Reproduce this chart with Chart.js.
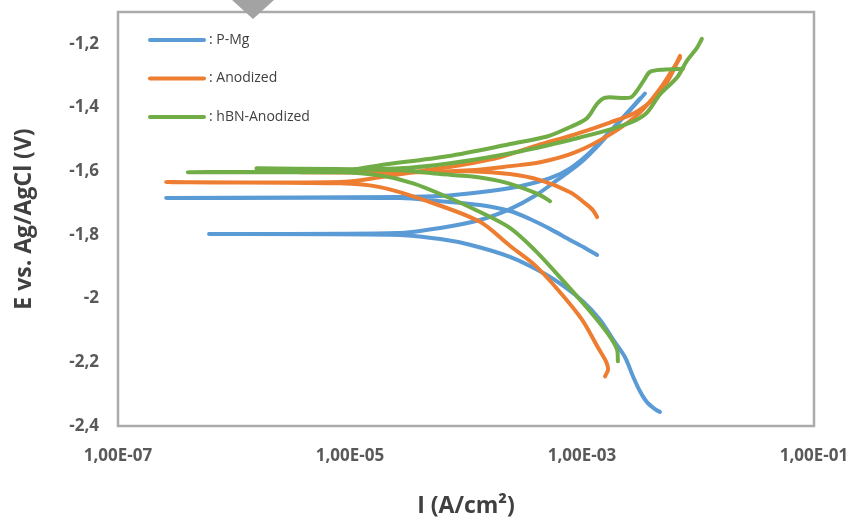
<!DOCTYPE html>
<html>
<head>
<meta charset="utf-8">
<script src="https://cdn.jsdelivr.net/npm/chart.js@4.4.0/dist/chart.umd.min.js"></script>
<style>
  html, body { margin: 0; padding: 0; background: #ffffff; }
  #wrap { width: 855px; height: 520px; position: relative; }
</style>
</head>
<body>
<div id="wrap"><canvas id="tafel" width="855" height="520"></canvas></div>
<script>
// Axis ticks and their printed labels (decimal comma notation)
const xTickValues = [1e-7, 1e-5, 1e-3, 1e-1];
const xTickLabels = ['1,00E-07', '1,00E-05', '1,00E-03', '1,00E-01'];
const yTickValues = [-2.4, -2.2, -2.0, -1.8, -1.6, -1.4, -1.2];
const yTickLabels = ['-2,4', '-2,2', '-2', '-1,8', '-1,6', '-1,4', '-1,2'];

// Samples
const seriesNames = ['P-Mg', 'Anodized', 'hBN-Anodized'];
const seriesColors = ['#5B9BD5', '#ED7D31', '#70AD47'];

// Polarization sweeps: current density (A/cm²) and potential (V vs Ag/AgCl)
// P-Mg, run 1
const pmg1Current = [1.35e-3, 1.06e-3, 7.9e-4, 5.3e-4, 3.56e-4, 2.39e-4, 1.32e-4, 6.0e-5, 2.7e-5, 2.6e-7,
  2.7e-5, 6.0e-5, 1.32e-4, 2.92e-4, 5.3e-4, 7.9e-4, 1.17e-3, 1.74e-3, 2.49e-3, 3.49e-3];
const pmg1Potential = [-1.863, -1.841, -1.816, -1.781, -1.750, -1.725, -1.706, -1.694, -1.684, -1.684,
  -1.681, -1.678, -1.666, -1.647, -1.622, -1.591, -1.541, -1.475, -1.416, -1.356];

// P-Mg, run 2
const pmg2Current = [4.7e-3, 4.26e-3, 3.63e-3, 3.16e-3, 2.75e-3, 2.35e-3, 1.85e-3, 1.43e-3, 1.02e-3, 7.1e-4,
  4.6e-4, 2.39e-4, 1.08e-4, 6.0e-5, 2.7e-5, 6.1e-7, 2.54e-5, 6.0e-5, 1.32e-4, 2.39e-4,
  3.9e-4, 6.1e-4, 9.6e-4, 1.43e-3, 2.13e-3, 3.16e-3];
const pmg2Potential = [-2.356, -2.347, -2.325, -2.291, -2.244, -2.184, -2.128, -2.066, -2.009, -1.963,
  -1.919, -1.869, -1.831, -1.813, -1.800, -1.797, -1.794, -1.778, -1.753, -1.719,
  -1.678, -1.628, -1.575, -1.513, -1.441, -1.372];

// Anodized, run 1
const anod1Current = [1.58e-3, 1.68e-3, 1.61e-3, 1.37e-3, 1.0e-3, 6.2e-4, 3.9e-4, 2.39e-4, 1.32e-4, 4.9e-5,
  1.81e-5, 8.2e-6, 2.6e-7, 8.2e-6, 1.81e-5, 4.0e-5, 8.9e-5, 1.96e-4, 4.1e-4, 8.7e-4,
  1.74e-3, 2.86e-3, 4.26e-3, 5.5e-3, 7.0e-3];
const anod1Potential = [-2.244, -2.222, -2.197, -2.153, -2.066, -1.972, -1.894, -1.834, -1.759, -1.697,
  -1.650, -1.638, -1.634, -1.634, -1.619, -1.600, -1.581, -1.556, -1.519, -1.484,
  -1.447, -1.416, -1.369, -1.316, -1.238];

// Anodized, run 2
const anod2Current = [1.35e-3, 1.24e-3, 1.06e-3, 7.9e-4, 4.35e-4, 2.39e-4, 1.08e-4, 4.0e-5, 3.7e-6, 4.0e-5,
  1.08e-4, 2.39e-4, 4.35e-4, 8.7e-4, 1.81e-3, 3.16e-3, 4.7e-3, 5.97e-3, 7.0e-3];
const anod2Potential = [-1.744, -1.722, -1.700, -1.666, -1.628, -1.609, -1.600, -1.603, -1.603, -1.603,
  -1.597, -1.584, -1.572, -1.541, -1.481, -1.416, -1.341, -1.284, -1.244];

// hBN-Anodized, run 1
const hbn1Current = [2.04e-3, 2.0e-3, 1.64e-3, 1.1e-3, 6.5e-4, 3.9e-4, 2.39e-4, 1.32e-4, 6.9e-5, 3.5e-5,
  1.81e-5, 8.2e-6, 4.0e-7, 8.2e-6, 1.81e-5, 6.9e-5, 2.54e-4, 5.0e-4, 7.4e-4, 1.1e-3,
  1.35e-3, 1.58e-3, 2.59e-3, 2.98e-3, 3.49e-3, 3.85e-3, 4.99e-3, 7.43e-3];
const hbn1Potential = [-2.197, -2.159, -2.106, -2.028, -1.934, -1.847, -1.778, -1.728, -1.681, -1.638,
  -1.613, -1.603, -1.603, -1.600, -1.581, -1.553, -1.513, -1.491, -1.466, -1.434,
  -1.388, -1.369, -1.369, -1.347, -1.309, -1.288, -1.281, -1.278];

// hBN-Anodized, run 2
const hbn2Current = [5.3e-4, 4.35e-4, 2.92e-4, 1.96e-4, 1.08e-4, 6.0e-5, 2.7e-5, 1.58e-6, 6.7e-6, 2.7e-5,
  7.3e-5, 1.96e-4, 5.0e-4, 9.6e-4, 1.85e-3, 2.86e-3, 3.63e-3, 4.7e-3, 6.59e-3, 8.04e-3,
  9.8e-3, 1.08e-2];
const hbn2Potential = [-1.694, -1.675, -1.650, -1.631, -1.616, -1.609, -1.597, -1.591, -1.594, -1.591,
  -1.575, -1.550, -1.519, -1.494, -1.466, -1.441, -1.416, -1.359, -1.306, -1.253,
  -1.213, -1.184];

const runs = [
  { sample: 0, current: pmg1Current, potential: pmg1Potential },
  { sample: 0, current: pmg2Current, potential: pmg2Potential },
  { sample: 1, current: anod1Current, potential: anod1Potential },
  { sample: 1, current: anod2Current, potential: anod2Potential },
  { sample: 2, current: hbn1Current, potential: hbn1Potential },
  { sample: 2, current: hbn2Current, potential: hbn2Potential }
];

const datasets = runs.map(r => ({
  label: seriesNames[r.sample],
  data: r.current.map((c, i) => ({ x: c, y: r.potential[i] })),
  borderColor: seriesColors[r.sample],
  backgroundColor: seriesColors[r.sample],
  showLine: true,
  fill: false,
  pointRadius: 0,
  pointHoverRadius: 0,
  borderWidth: 4,
  tension: 0.3,
  borderCapStyle: 'round',
  borderJoinStyle: 'round',
  order: 2 - r.sample
}));

const tickFont = { family: "'Open Sans', 'Liberation Sans', sans-serif", size: 17, weight: 'bold' };
const titleFont = { family: "'Open Sans', 'Liberation Sans', sans-serif", size: 23, weight: 'bold' };

// Keep the plot area fixed: no extra room reserved for edge tick labels
function noEdgePadding(s) {
  s.paddingTop = 0;
  s.paddingBottom = 0;
  s.paddingLeft = 0;
  s.paddingRight = 0;
}

// Grey frame around the plot area
const plotFrame = {
  id: 'plotFrame',
  beforeDatasetsDraw(chart) {
    const { ctx, chartArea: a } = chart;
    ctx.save();
    ctx.strokeStyle = '#ababab';
    ctx.lineWidth = 2.5;
    ctx.strokeRect(a.left, a.top, a.right - a.left, a.bottom - a.top);
    ctx.restore();
  }
};

// Legend: one long line sample per material, stacked in the upper-left of the plot
const insetLegend = {
  id: 'insetLegend',
  afterDatasetsDraw(chart) {
    const { ctx, chartArea: a } = chart;
    ctx.save();
    ctx.font = "14px 'Open Sans', 'Liberation Sans', sans-serif";
    ctx.textBaseline = 'middle';
    ctx.textAlign = 'left';
    seriesNames.forEach((name, i) => {
      const y = a.top + 28 + i * 38.5;
      const x0 = a.left + 32;
      ctx.strokeStyle = seriesColors[i];
      ctx.lineWidth = 4;
      ctx.lineCap = 'round';
      ctx.beginPath();
      ctx.moveTo(x0, y);
      ctx.lineTo(x0 + 54, y);
      ctx.stroke();
      ctx.fillStyle = '#404040';
      ctx.fillText(': ' + name, x0 + 59, y);
    });
    ctx.restore();
  }
};

// Small grey pointer marker at the top edge of the canvas
const topMarker = {
  id: 'topMarker',
  afterDraw(chart) {
    const { ctx } = chart;
    ctx.save();
    ctx.fillStyle = '#a3a3a3';
    ctx.beginPath();
    ctx.moveTo(232, 0);
    ctx.lineTo(274, 0);
    ctx.lineTo(253, 19);
    ctx.closePath();
    ctx.fill();
    ctx.restore();
  }
};

new Chart(document.getElementById('tafel'), {
  type: 'scatter',
  data: { datasets },
  options: {
    responsive: false,
    animation: false,
    events: [],
    layout: { padding: { top: 12, right: 41, left: 0, bottom: 0 } },
    plugins: {
      legend: { display: false },
      tooltip: { enabled: false }
    },
    scales: {
      x: {
        type: 'logarithmic',
        min: 1e-7,
        max: 1e-1,
        afterBuildTicks: s => { s.ticks = xTickValues.map(v => ({ value: v })); },
        afterFit: s => { s.height = 94; noEdgePadding(s); },
        grid: { display: false, drawTicks: false },
        border: { display: false },
        ticks: {
          autoSkip: false,
          maxRotation: 0,
          padding: 20,
          color: '#595959',
          font: tickFont,
          callback: (v, i) => xTickLabels[i]
        },
        title: {
          display: true,
          text: 'I (A/cm²)',
          color: '#404040',
          font: titleFont,
          padding: { top: 0, bottom: 0 }
        }
      },
      y: {
        type: 'linear',
        min: -2.4,
        max: -1.1,
        afterBuildTicks: s => { s.ticks = yTickValues.map(v => ({ value: v })); },
        afterFit: s => { s.width = 118; noEdgePadding(s); },
        grid: { display: false, drawTicks: false },
        border: { display: false },
        ticks: {
          padding: 19,
          color: '#595959',
          font: tickFont,
          callback: (v, i) => yTickLabels[i]
        },
        title: {
          display: true,
          text: 'E vs. Ag/AgCl (V)',
          color: '#404040',
          font: titleFont,
          padding: { top: 11, bottom: 0 }
        }
      }
    }
  },
  plugins: [plotFrame, insetLegend, topMarker]
});
</script>
</body>
</html>
